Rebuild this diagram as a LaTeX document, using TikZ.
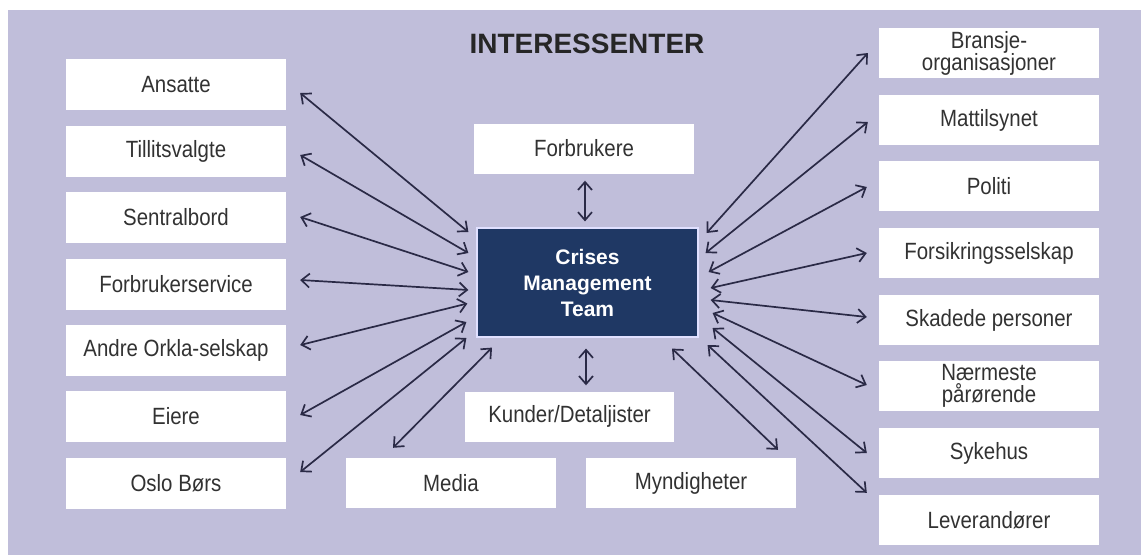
\documentclass[tikz,border=0pt]{standalone}
\usepackage{fontspec}
\setmainfont[FakeStretch=0.87]{Liberation Sans}
\newfontfamily\titlefont{Liberation Sans}
\usetikzlibrary{arrows.meta}

\definecolor{lavendel}{RGB}{192,190,218}
\definecolor{marine}{RGB}{31,56,100}
\definecolor{pil}{RGB}{42,42,70}
\definecolor{tekst}{RGB}{50,50,50}

\tikzset{
  box/.style={fill=white, minimum width=220pt, minimum height=50pt, inner sep=0pt,
    align=center, text=tekst, font=\fontsize{23.5}{22}\selectfont},
  ctrbox/.style={fill=marine, draw=blue!12!white, line width=1.2pt, minimum width=221pt,
    minimum height=109pt, inner sep=0pt, align=center, text=white,
    font=\titlefont\bfseries\fontsize{21}{26}\selectfont},
  link/.style={draw=pil, line width=1.7pt,
    {Straight Barb[length=8pt,width=14pt]}-{Straight Barb[length=8pt,width=14pt]}},
}

\begin{document}
\begin{tikzpicture}[x=1pt,y=-1pt]
  \useasboundingbox (0,0) rectangle (1141,555);
  \fill[white] (0,0) rectangle (1141,555);
  \fill[lavendel] (8,10) rectangle (1141,555);   % background

  \node[font=\titlefont\bfseries\fontsize{28}{30}\selectfont, text=black!85] (tittel) at (587,44) {INTERESSENTER};

  % centre
  \node[ctrbox] (ctr) at (587.5,282.5) {Crises\\Management\\Team};
  \node[box] (forbrukere) at (584,148.5) {Forbrukere};
  \node[box, minimum width=209pt] (kunder) at (569.5,416.5) {Kunder/Detaljister};
  \node[box, minimum width=210pt] (media) at (451,483) {Media};
  \node[box, minimum width=210pt] (myndigheter) at (691,483) {Myndigheter};

  % left column
  \node[box, minimum height=51pt] (ansatte) at (176,84.5) {Ansatte};
  \node[box, minimum height=51pt] (tillit) at (176,151) {Tillitsvalgte};
  \node[box, minimum height=51pt] (sentral) at (176,217.5) {Sentralbord};
  \node[box, minimum height=51pt] (fservice) at (176,284) {Forbrukerservice};
  \node[box, minimum height=51pt] (orkla) at (176,350.5) {Andre Orkla-selskap};
  \node[box, minimum height=51pt] (eiere) at (176,416.5) {Eiere};
  \node[box, minimum height=51pt] (oslo) at (176,483.5) {Oslo Børs};

  % right column
  \node[box] (bransje) at (989,53) {Bransje-\\organisasjoner};
  \node[box] (matt) at (989,120) {Mattilsynet};
  \node[box] (politi) at (989,186) {Politi};
  \node[box] (forsikring) at (989,253) {Forsikringsselskap};
  \node[box] (skadede) at (989,320) {Skadede personer};
  \node[box] (naermeste) at (989,386) {Nærmeste\\pårørende};
  \node[box] (sykehus) at (989,453) {Sykehus};
  \node[box] (lev) at (989,520) {Leverandører};

  % vertical arrows
  \draw[link] ([shift={(1,7)}]forbrukere.south) -- ([shift={(-2.5,-6)}]ctr.north);
  \draw[link] ([shift={(-1.5,11)}]ctr.south) -- ([shift={(16.5,-6)}]kunder.north);

  % left arrows
  \draw[link] ([shift={(-8,-50.5)}]ctr.west) -- ([shift={(14,8.5)}]ansatte.east);
  \draw[link] ([shift={(-8,-29.5)}]ctr.west) -- ([shift={(14,4)}]tillit.east);
  \draw[link] ([shift={(-8,-10.5)}]ctr.west) -- ([shift={(14,-0.5)}]sentral.east);
  \draw[link] ([shift={(-8,7.5)}]ctr.west) -- ([shift={(14,-4)}]fservice.east);
  \draw[link] ([shift={(-9,21)}]ctr.west) -- ([shift={(14,-5.5)}]orkla.east);
  \draw[link] ([shift={(-10,39.5)}]ctr.west) -- ([shift={(14,-1.5)}]eiere.east);
  \draw[link] ([shift={(-10,55.5)}]ctr.west) -- ([shift={(14,-11.5)}]oslo.east);

  % bottom arrows
  \draw[link] ([shift={(-95.5,10)}]ctr.south) -- ([shift={(-58,-10)}]media.north);
  \draw[link] ([shift={(84.5,11)}]ctr.south) -- ([shift={(87,-8)}]myndigheter.north);

  % right arrows
  \draw[link] ([shift={(8,-49.5)}]ctr.east) -- ([shift={(-11,0)}]bransje.west);
  \draw[link] ([shift={(7,-29.5)}]ctr.east) -- ([shift={(-11,2)}]matt.west);
  \draw[link] ([shift={(10,-10.5)}]ctr.east) -- ([shift={(-12,1)}]politi.west);
  \draw[link] ([shift={(12,5.5)}]ctr.east) -- ([shift={(-12,0)}]forsikring.west);
  \draw[link] ([shift={(12,17.5)}]ctr.east) -- ([shift={(-12,-3)}]skadede.west);
  \draw[link] ([shift={(14,30.5)}]ctr.east) -- ([shift={(-12,-1)}]naermeste.west);
  \draw[link] ([shift={(14,45.5)}]ctr.east) -- ([shift={(-12,0)}]sykehus.west);
  \draw[link] ([shift={(9,62.5)}]ctr.east) -- ([shift={(-12,-2)}]lev.north west);
\end{tikzpicture}
\end{document}
